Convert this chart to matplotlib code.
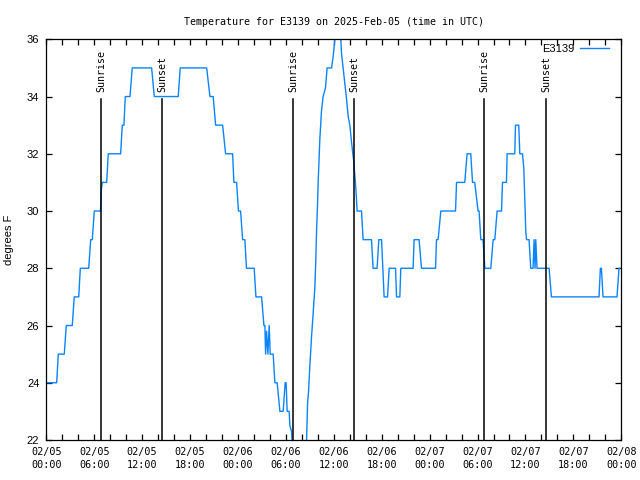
import matplotlib
matplotlib.use("Agg")
import matplotlib.pyplot as plt
import matplotlib.transforms as mtransforms

# ---- data (hours since 2025-02-05 00:00 UTC, temperature in F) ----
hours = [0.00, 1.30, 1.50, 2.25, 2.50, 3.25, 3.50, 4.06, 4.26, 5.31, 5.56, 5.76, 6.01, 6.78,
         6.91, 7.01, 7.56, 7.76, 9.31, 9.51, 9.72, 9.89, 10.48, 10.76, 13.19, 13.52, 16.52,
         16.77, 20.08, 20.49, 20.90, 21.20, 22.08, 22.45, 23.33, 23.49, 23.83, 24.06, 24.33,
         24.58, 24.87, 25.06, 26.03, 26.25, 26.96, 27.25, 27.37, 27.46, 27.58, 27.75, 27.91,
         28.04, 28.41, 28.62, 28.91, 29.25, 29.66, 29.91, 30.03, 30.16, 30.41, 30.50, 30.71,
         30.94, 32.44, 32.59, 32.72, 32.84, 33.00, 33.21, 33.41, 33.62, 33.75, 33.84, 33.96,
         34.04, 34.25, 34.46, 34.66, 34.96, 35.16, 35.72, 35.92, 36.13, 36.38, 36.63, 36.88,
         36.97, 37.17, 37.38, 37.60, 37.80, 38.01, 38.22, 38.51, 38.76, 38.92, 39.47, 39.67,
         40.72, 40.92, 41.42, 41.64, 41.98, 42.30, 42.73, 42.93, 43.73, 43.86, 44.27, 44.39,
         45.93, 46.06, 46.68, 46.98, 48.74, 48.86, 49.06, 49.40, 51.24, 51.37, 52.40, 52.69,
         53.15, 53.37, 53.65, 54.06, 54.19, 54.41, 54.69, 54.91, 55.66, 55.95, 56.16, 56.45,
         57.00, 57.12, 57.62, 57.70, 58.66, 58.75, 59.16, 59.29, 59.63, 59.79, 60.04, 60.13,
         60.45, 60.66, 60.95, 61.08, 61.20, 61.29, 61.45, 62.96, 63.25, 69.21, 69.38, 69.51,
         69.71, 71.46, 71.71, 71.80]
temps = [24, 24, 25, 25, 26, 26, 27, 27, 28, 28, 29, 29, 30, 30,
         30.8, 31, 31, 32, 32, 33, 33, 34, 34, 35, 35, 34, 34,
         35, 35, 34, 34, 33, 33, 32, 32, 31, 31, 30, 30,
         29, 29, 28, 28, 27, 27, 26, 26, 25, 25.8, 25, 26,
         25, 25, 24, 24, 23, 23, 24, 24, 23, 23, 22.5, 22.3,
         21, 21, 22, 23.3, 23.7, 24.6, 25.6, 26.4, 27.3, 28.3, 29.3, 30.2,
         31, 32.5, 33.5, 34, 34.3, 35, 35, 35.4, 36, 37, 37, 36,
         35.5, 35, 34.5, 33.9, 33.3, 33, 32.4, 31.7, 30.8, 30, 30, 29,
         29, 28, 28, 29, 29, 27, 27, 28, 28, 27, 27, 28,
         28, 29, 29, 28, 28, 29, 29, 30, 30, 31, 31, 32,
         32, 31, 31, 30, 30, 29, 29, 28, 28, 29, 29, 30,
         30, 31, 31, 32, 32, 33, 33, 32, 32, 31.5, 29.3, 29,
         29, 28, 28, 29, 28, 29, 28, 28, 27, 27, 28, 28,
         27, 27, 28, 28]

sun_times = [6.88, 14.53, 30.90, 38.55, 54.85, 62.58]
sun_labels = ["Sunrise", "Sunset", "Sunrise", "Sunset", "Sunrise", "Sunset"]

tick_hours = [0, 6, 12, 18, 24, 30, 36, 42, 48, 54, 60, 66, 72]
tick_labels = ["02/05\n00:00", "02/05\n06:00", "02/05\n12:00", "02/05\n18:00",
               "02/06\n00:00", "02/06\n06:00", "02/06\n12:00", "02/06\n18:00",
               "02/07\n00:00", "02/07\n06:00", "02/07\n12:00", "02/07\n18:00",
               "02/08\n00:00"]
minor_hours = [h for h in range(0, 73, 2) if h % 6 != 0]
ytick_vals = [22, 24, 26, 28, 30, 32, 34, 36]

series_name = "E3139"
title = "Temperature for E3139 on 2025-Feb-05 (time in UTC)"
ylabel = "degrees F"

mono = "DejaVu Sans Mono"
sans = "Liberation Sans"

fig = plt.figure(figsize=(6.4, 4.8), dpi=100)
ax = fig.add_axes([46.3 / 640, 40 / 480, 575 / 640, 400.7 / 480])

line_color = "#0a84ff"
ax.plot(hours, temps, color=line_color, lw=1.0, label=series_name)

ax.set_xlim(0, 72)
ax.set_ylim(22, 36)

trans = mtransforms.blended_transform_factory(ax.transData, ax.transAxes)
for t, lab in zip(sun_times, sun_labels):
    ax.axvline(t, ymin=0, ymax=0.851, color="black", lw=1.1)
    ax.text(t, 0.868, lab, transform=trans, rotation=90, ha="center", va="bottom",
            family=mono, fontsize=7.2)

ax.set_xticks(tick_hours)
ax.set_xticklabels(tick_labels, family=mono, fontsize=7.3, linespacing=1.4)
ax.set_xticks(minor_hours, minor=True)
ax.set_yticks(ytick_vals)
ax.set_yticklabels([str(v) for v in ytick_vals], family=sans, fontsize=8)

ax.tick_params(axis="both", which="both", direction="in", length=4, width=0.9,
               top=True, right=True, color="black")
ax.tick_params(axis="x", which="major", pad=5)
ax.tick_params(axis="y", which="major", pad=5)

for s in ax.spines.values():
    s.set_linewidth(0.9)

ax.set_title(title, family=mono, fontsize=7.2, pad=10.5)
ax.set_ylabel(ylabel, family=sans, fontsize=8, labelpad=9)

leg = ax.legend(loc="upper right", frameon=False, markerfirst=False,
                prop={"family": sans, "size": 8}, handlelength=2.6,
                bbox_to_anchor=(0.986, 1.0), borderaxespad=0.0,
                handletextpad=0.5)

fig.savefig("out.png", dpi=100)
